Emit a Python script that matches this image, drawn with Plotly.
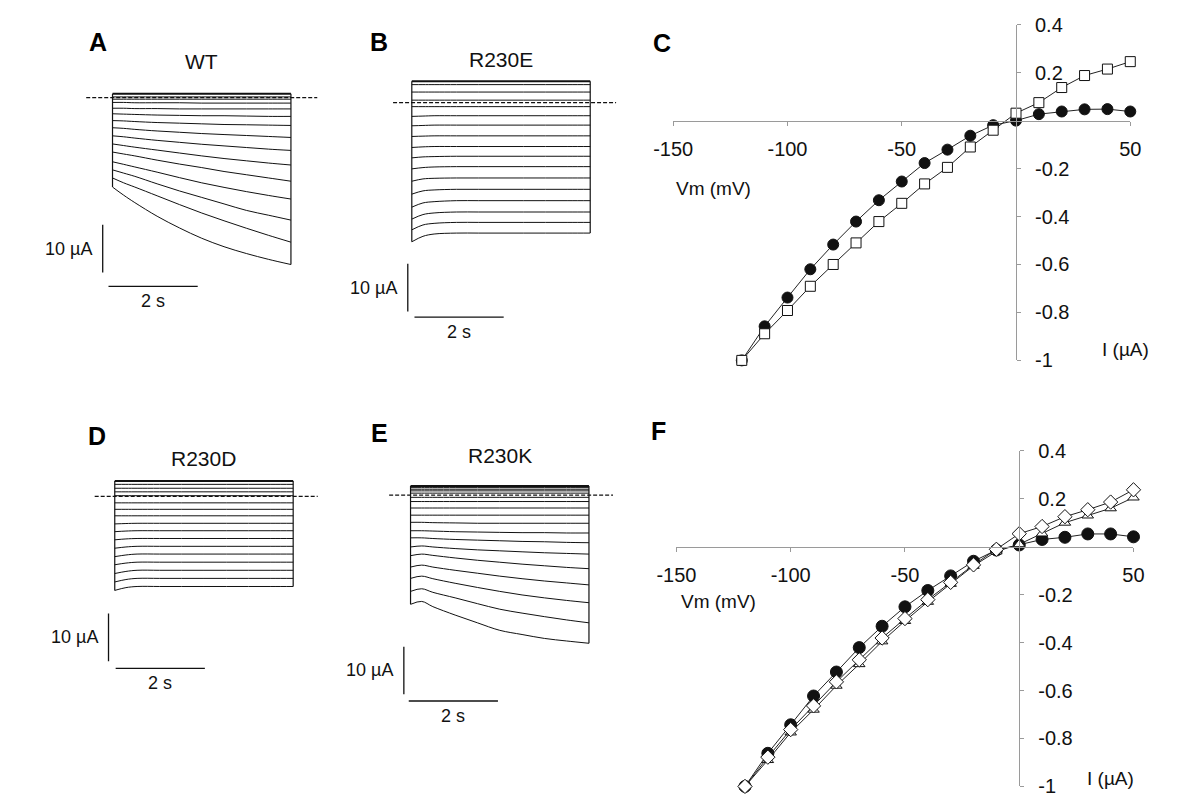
import plotly.graph_objects as go

W, H = 1188, 805
FONT = "Liberation Sans, Arial, sans-serif"

# ---------------- data ----------------
T_SEC = [0, 0.25, 0.5, 1, 1.5, 2, 2.5, 3, 3.5, 4]  # sample times (s) within the 4-s pulse

# current traces (µA) sampled at T_SEC
WT_TRACES = [
    [0.82, 0.82, 0.82, 0.82, 0.82, 0.82, 0.82, 0.82, 0.82, 0.82],
    [0.14, 0.14, 0.14, 0.14, 0.14, 0.14, 0.14, 0.14, 0.14, 0.14],
    [-0.34, -0.34, -0.34, -0.34, -0.34, -0.34, -0.34, -0.34, -0.34, -0.34],
    [-1.02, -1.02, -1.09, -1.09, -1.09, -1.16, -1.16, -1.16, -1.16, -1.16],
    [-2.24, -2.24, -2.31, -2.31, -2.38, -2.38, -2.38, -2.38, -2.38, -2.38],
    [-3.40, -3.47, -3.54, -3.67, -3.74, -3.81, -3.81, -3.88, -3.95, -3.95],
    [-4.83, -4.90, -5.03, -5.24, -5.37, -5.51, -5.65, -5.71, -5.78, -5.85],
    [-6.33, -6.46, -6.67, -7.01, -7.28, -7.55, -7.76, -7.96, -8.16, -8.37],
    [-8.03, -8.23, -8.50, -8.98, -9.39, -9.80, -10.14, -10.48, -10.82, -11.09],
    [-9.73, -10.07, -10.41, -11.02, -11.63, -12.24, -12.79, -13.27, -13.74, -14.15],
    [-11.43, -11.84, -12.24, -13.13, -13.95, -14.69, -15.51, -16.19, -16.87, -17.55],
    [-13.47, -14.01, -14.56, -15.65, -16.80, -17.89, -18.84, -19.73, -20.54, -21.29],
    [-15.17, -15.85, -16.53, -18.10, -19.59, -20.95, -22.31, -23.67, -24.69, -25.71],
    [-16.87, -17.89, -18.78, -20.61, -22.45, -24.22, -25.85, -27.41, -28.91, -30.34],
    [-18.78, -20.48, -22.04, -24.90, -27.35, -29.52, -31.29, -32.72, -33.95, -35.03],
]
R230E_TRACES = [
    [4.48, 4.48, 4.48, 4.48, 4.48, 4.48, 4.48, 4.48, 4.48, 4.48],
    [3.80, 3.80, 3.80, 3.80, 3.80, 3.80, 3.80, 3.80, 3.80, 3.80],
    [2.24, 2.24, 2.24, 2.24, 2.24, 2.24, 2.24, 2.24, 2.24, 2.24],
    [0.54, 0.54, 0.54, 0.54, 0.54, 0.54, 0.54, 0.54, 0.54, 0.54],
    [-0.82, -0.82, -0.82, -0.82, -0.82, -0.82, -0.82, -0.82, -0.82, -0.82],
    [-2.87, -2.80, -2.73, -2.73, -2.73, -2.73, -2.73, -2.73, -2.73, -2.73],
    [-4.84, -4.77, -4.70, -4.70, -4.70, -4.70, -4.70, -4.70, -4.70, -4.70],
    [-7.08, -7.01, -6.95, -6.95, -6.95, -6.95, -6.95, -6.95, -6.95, -6.95],
    [-9.39, -9.26, -9.19, -9.19, -9.19, -9.19, -9.19, -9.19, -9.19, -9.19],
    [-11.57, -11.37, -11.30, -11.23, -11.23, -11.23, -11.23, -11.23, -11.23, -11.23],
    [-13.88, -13.61, -13.48, -13.41, -13.41, -13.41, -13.41, -13.41, -13.41, -13.41],
    [-16.47, -15.99, -15.86, -15.79, -15.79, -15.79, -15.79, -15.79, -15.79, -15.79],
    [-19.18, -18.50, -18.30, -18.17, -18.17, -18.17, -18.17, -18.17, -18.17, -18.17],
    [-21.91, -21.03, -20.76, -20.55, -20.55, -20.55, -20.55, -20.55, -20.55, -20.55],
    [-24.42, -23.47, -23.13, -22.93, -22.93, -22.93, -22.93, -22.93, -22.93, -22.93],
    [-26.67, -25.65, -25.31, -25.11, -25.11, -25.11, -25.11, -25.11, -25.11, -25.11],
    [-29.18, -28.03, -27.55, -27.35, -27.35, -27.35, -27.35, -27.35, -27.35, -27.35],
]
R230D_TRACES = [
    [3.20, 3.20, 3.20, 3.20, 3.20, 3.20, 3.20, 3.20, 3.20, 3.20],
    [2.52, 2.52, 2.52, 2.52, 2.52, 2.52, 2.52, 2.52, 2.52, 2.52],
    [1.70, 1.70, 1.70, 1.70, 1.70, 1.70, 1.70, 1.70, 1.70, 1.70],
    [0.95, 0.95, 0.95, 0.95, 0.95, 0.95, 0.95, 0.95, 0.95, 0.95],
    [0.14, 0.14, 0.14, 0.14, 0.14, 0.14, 0.14, 0.14, 0.14, 0.14],
    [-1.36, -1.36, -1.36, -1.36, -1.36, -1.36, -1.36, -1.36, -1.36, -1.36],
    [-2.72, -2.72, -2.72, -2.72, -2.72, -2.72, -2.72, -2.72, -2.72, -2.72],
    [-4.08, -4.08, -4.08, -4.08, -4.08, -4.08, -4.08, -4.08, -4.08, -4.08],
    [-5.78, -5.70, -5.65, -5.65, -5.65, -5.65, -5.65, -5.65, -5.65, -5.65],
    [-7.41, -7.28, -7.21, -7.21, -7.21, -7.21, -7.21, -7.21, -7.21, -7.21],
    [-9.12, -8.93, -8.84, -8.84, -8.84, -8.84, -8.84, -8.84, -8.84, -8.84],
    [-10.88, -10.62, -10.48, -10.48, -10.48, -10.48, -10.48, -10.48, -10.48, -10.48],
    [-12.65, -12.30, -12.11, -12.11, -12.11, -12.11, -12.11, -12.11, -12.11, -12.11],
    [-14.35, -14.00, -13.81, -13.81, -13.81, -13.81, -13.81, -13.81, -13.81, -13.81],
    [-16.19, -15.75, -15.51, -15.51, -15.51, -15.51, -15.51, -15.51, -15.51, -15.51],
    [-17.96, -17.45, -17.21, -17.21, -17.21, -17.21, -17.21, -17.21, -17.21, -17.21],
    [-19.73, -19.15, -18.91, -18.91, -18.91, -18.91, -18.91, -18.91, -18.91, -18.91],
]
R230K_TRACES = [
    [1.91, 1.91, 1.91, 1.91, 1.91, 1.91, 1.91, 1.91, 1.91, 1.91],
    [1.57, 1.57, 1.57, 1.57, 1.57, 1.57, 1.57, 1.57, 1.57, 1.57],
    [1.23, 1.23, 1.23, 1.23, 1.23, 1.23, 1.23, 1.23, 1.23, 1.23],
    [0.89, 0.89, 0.89, 0.89, 0.89, 0.89, 0.89, 0.89, 0.89, 0.89],
    [0.41, 0.41, 0.41, 0.41, 0.41, 0.41, 0.41, 0.41, 0.41, 0.41],
    [-0.47, -0.47, -0.47, -0.47, -0.47, -0.47, -0.47, -0.47, -0.47, -0.47],
    [-1.35, -1.35, -1.35, -1.35, -1.35, -1.35, -1.35, -1.35, -1.35, -1.35],
    [-2.71, -2.71, -2.71, -2.71, -2.71, -2.71, -2.71, -2.71, -2.71, -2.71],
    [-4.21, -4.21, -4.21, -4.21, -4.21, -4.21, -4.21, -4.21, -4.21, -4.21],
    [-5.71, -5.71, -5.78, -5.84, -5.91, -5.91, -5.91, -5.91, -5.91, -5.91],
    [-7.48, -7.48, -7.54, -7.68, -7.75, -7.82, -7.88, -7.88, -7.95, -7.95],
    [-8.97, -8.97, -9.11, -9.31, -9.45, -9.58, -9.72, -9.79, -9.92, -9.99],
    [-10.88, -10.67, -10.88, -11.22, -11.49, -11.69, -11.90, -12.10, -12.24, -12.38],
    [-12.71, -12.38, -12.65, -13.19, -13.67, -14.08, -14.49, -14.83, -15.17, -15.44],
    [-15.10, -14.69, -15.10, -15.78, -16.39, -17.00, -17.54, -18.02, -18.43, -18.84],
    [-17.48, -17.00, -17.54, -18.50, -19.38, -20.20, -20.95, -21.56, -22.10, -22.58],
    [-20.20, -19.65, -20.40, -21.56, -22.78, -23.94, -24.76, -25.50, -26.19, -26.80],
    [-22.92, -22.31, -23.40, -25.17, -26.80, -28.37, -29.25, -30.07, -30.61, -31.09],
]

# I-V relations (normalised current) vs membrane potential
VM = [-120, -110, -100, -90, -80, -70, -60, -50, -40, -30, -20, -10, 0, 10, 20, 30, 40, 50]
C_CIRCLES = [-1.0, -0.858, -0.738, -0.62, -0.517, -0.421, -0.332, -0.254, -0.177, -0.121,
             -0.063, -0.019, 0.0, 0.027, 0.038, 0.047, 0.048, 0.038]
C_SQUARES = [-1.0, -0.889, -0.792, -0.691, -0.6, -0.51, -0.421, -0.345, -0.264, -0.195,
             -0.11, -0.04, 0.031, 0.075, 0.138, 0.188, 0.215, 0.246]
F_CIRCLES = [-1.0, -0.862, -0.743, -0.623, -0.523, -0.421, -0.332, -0.251, -0.183, -0.122,
             -0.061, -0.014, 0.007, 0.03, 0.039, 0.053, 0.053, 0.041]
F_TRIANGLES = [-1.0, -0.89, -0.775, -0.68, -0.58, -0.49, -0.395, -0.31, -0.23, -0.155,
               -0.08, -0.02, 0.01, 0.055, 0.1, 0.13, 0.16, 0.205]
F_DIAMONDS = [-1.0, -0.878, -0.763, -0.664, -0.564, -0.472, -0.381, -0.3, -0.221, -0.149,
              -0.076, -0.011, 0.054, 0.084, 0.125, 0.154, 0.186, 0.237]

X_TICKS = [-150, -100, -50, 50]
X_TICK_TEXT = ["-150", "-100", "-50", "50"]
Y_TICKS = [0.4, 0.2, -0.2, -0.4, -0.6, -0.8, -1]
Y_TICK_TEXT = ["0.4", "0.2", "-0.2", "-0.4", "-0.6", "-0.8", "-1"]

SCALE_I = 10  # µA
SCALE_T = 2   # s

# ---------------- layout helpers ----------------
PX_PER_S = 45.8
PX_PER_UA = 4.9
INK = "#111111"

fig = go.Figure()
layout = {}
annotations = []


def set_axes(idx, origin, sx, sy, box, xkw, ykw):
    ox, oy = origin
    x0, x1, y0, y1 = box
    xa = dict(domain=[x0 / W, x1 / W], range=[(x0 - ox) / sx, (x1 - ox) / sx])
    ya = dict(domain=[1 - y1 / H, 1 - y0 / H], range=[(oy - y1) / sy, (oy - y0) / sy])
    xa.update(xkw)
    ya.update(ykw)
    layout["xaxis%d" % idx] = xa
    layout["yaxis%d" % idx] = ya


hidden = dict(visible=False, showgrid=False, zeroline=False, fixedrange=True)

trace_panels = [
    dict(title="WT", traces=WT_TRACES, origin=(95, 89), box=(40, 320, 60, 305),
         dash=(-0.59, 4.59), vbar=(-0.22, -26.7), hbar=(-0.09, -39.6), title_y=52),
    dict(title="R230E", traces=R230E_TRACES, origin=(402.3, 94.3), box=(320, 630, 60, 345),
         dash=(-0.42, 4.58), vbar=(-0.09, -33.8), hbar=(0.06, -45.0), title_y=50),
    dict(title="R230D", traces=R230D_TRACES, origin=(97.3, 499), box=(40, 320, 470, 705),
         dash=(-0.45, 4.55), vbar=(-0.14, -24.6), hbar=(0.02, -36.1), title_y=460),
    dict(title="R230K", traces=R230K_TRACES, origin=(401, 497.7), box=(320, 630, 470, 745),
         dash=(-0.48, 4.54), vbar=(-0.15, -31.8), hbar=(-0.04, -43.2), title_y=457),
]

for i, p in enumerate(trace_panels, start=1):
    set_axes(i, p["origin"], PX_PER_S, PX_PER_UA, p["box"], hidden, hidden)
    xr, yr = ("x" if i == 1 else "x%d" % i), ("y" if i == 1 else "y%d" % i)
    for k, tr in enumerate(p["traces"]):
        fig.add_trace(go.Scatter(
            x=T_SEC, y=tr, mode="lines", xaxis=xr, yaxis=yr, hoverinfo="skip",
            line=dict(color=INK, width=2 if k == 0 else 1, shape="spline", smoothing=1.0)))
    starts = [tr[0] for tr in p["traces"]]
    ends = [tr[-1] for tr in p["traces"]]
    for tx, vals in ((T_SEC[0], starts), (T_SEC[-1], ends)):
        fig.add_trace(go.Scatter(x=[tx, tx], y=[max(vals), min(vals)], mode="lines",
                                 xaxis=xr, yaxis=yr, hoverinfo="skip",
                                 line=dict(color=INK, width=1.2)))
    # zero-current dashed line
    fig.add_trace(go.Scatter(x=list(p["dash"]), y=[0, 0], mode="lines", xaxis=xr, yaxis=yr,
                             hoverinfo="skip", line=dict(color=INK, width=1.3, dash="4px,2px")))
    # scale bars
    vx, vy = p["vbar"]
    hx, hy = p["hbar"]
    fig.add_trace(go.Scatter(x=[vx, vx], y=[vy, vy - SCALE_I], mode="lines", xaxis=xr, yaxis=yr,
                             hoverinfo="skip", line=dict(color=INK, width=1.3)))
    fig.add_trace(go.Scatter(x=[hx, hx + SCALE_T], y=[hy, hy], mode="lines", xaxis=xr, yaxis=yr,
                             hoverinfo="skip", line=dict(color=INK, width=1.3)))
    annotations.append(dict(x=vx, y=vy - SCALE_I / 2, xref=xr, yref=yr, text="10 µA",
                            showarrow=False, xanchor="right", yanchor="middle", xshift=-9,
                            font=dict(family=FONT, size=18, color=INK)))
    annotations.append(dict(x=hx + SCALE_T / 2, y=hy, xref=xr, yref=yr, text="2 s",
                            showarrow=False, xanchor="center", yanchor="top", yshift=-3,
                            font=dict(family=FONT, size=18, color=INK)))
    annotations.append(dict(x=(T_SEC[0] + T_SEC[-1]) / 2, y=1 - p["title_y"] / H,
                            xref=xr, yref="paper", text=p["title"], showarrow=False,
                            xanchor="center", yanchor="middle",
                            font=dict(family=FONT, size=21, color=INK)))

# ---------------- I-V panels ----------------
IV_SX = 2.3465
IV_SY = 246.5
AX_GREY = "#9a9a9a"
iv_panels = [
    dict(idx=5, origin=(1022.7, 112.7), vm_lab=(712, 182), i_lab=(1135, 348),
         series=[(C_CIRCLES, "circle", INK, 11), (C_SQUARES, "square", "white", 10)]),
    dict(idx=6, origin=(1026.0, 550.7), vm_lab=(717, 607), i_lab=(1120, 789),
         series=[(F_CIRCLES, "circle", INK, 12), (F_TRIANGLES, "triangle-up", "white", 10),
                 (F_DIAMONDS, "diamond", "white", 11)]),
]
tick_font = dict(family=FONT, size=20, color=INK)
for p in iv_panels:
    ox, oy = p["origin"]
    box = (ox + X_TICKS[0] * IV_SX, ox + X_TICKS[-1] * IV_SX,
           oy - Y_TICKS[0] * IV_SY, oy - Y_TICKS[-1] * IV_SY)
    set_axes(p["idx"], p["origin"], IV_SX, IV_SY, box,
             dict(anchor="free", position=1 - oy / H, side="bottom", showline=True,
                  linecolor=AX_GREY, linewidth=1, ticks="outside", ticklen=4,
                  tickcolor=AX_GREY, tickvals=X_TICKS, ticktext=X_TICK_TEXT,
                  tickfont=tick_font, ticklabelstandoff=6, showgrid=False,
                  zeroline=False, fixedrange=True),
             dict(anchor="free", position=ox / W, side="right", showline=True,
                  linecolor=AX_GREY, linewidth=1, ticks="outside", ticklen=4,
                  tickcolor=AX_GREY, tickvals=Y_TICKS, ticktext=Y_TICK_TEXT,
                  tickfont=tick_font, ticklabelstandoff=10, showgrid=False,
                  zeroline=False, fixedrange=True))
    xr, yr = "x%d" % p["idx"], "y%d" % p["idx"]
    for vals, sym, fill, size in p["series"]:
        fig.add_trace(go.Scatter(
            x=VM, y=vals, mode="lines+markers", xaxis=xr, yaxis=yr, cliponaxis=False,
            hoverinfo="skip", line=dict(color="#222222", width=1),
            marker=dict(symbol=sym, size=size, color=fill, line=dict(color=INK, width=1))))
    annotations.append(dict(x=p["vm_lab"][0] / W, y=1 - p["vm_lab"][1] / H, xref="paper",
                            yref="paper", text="Vm (mV)", showarrow=False, xanchor="center",
                            yanchor="middle", font=dict(family=FONT, size=19, color=INK)))
    annotations.append(dict(x=p["i_lab"][0] / W, y=1 - p["i_lab"][1] / H, xref="paper",
                            yref="paper", text="I (µA)", showarrow=False, xanchor="center",
                            yanchor="middle", font=dict(family=FONT, size=19, color=INK)))

# panel letters
letter_pos = [(80, 32), (369, 32), (659, 33), (79, 437), (369, 434), (656, 432)]
for letter, (lx, ly) in zip("ABCDEF", letter_pos):
    annotations.append(dict(x=lx / W, y=1 - ly / H, xref="paper", yref="paper",
                            text="<b>%s</b>" % letter, showarrow=False, xanchor="center",
                            yanchor="middle", font=dict(family=FONT, size=25, color="#000000")))

fig.update_layout(width=W, height=H, margin=dict(l=0, r=0, t=0, b=0),
                  paper_bgcolor="white", plot_bgcolor="rgba(0,0,0,0)", showlegend=False,
                  annotations=annotations, **layout)
fig.write_html("out.html", config={"displayModeBar": False})
